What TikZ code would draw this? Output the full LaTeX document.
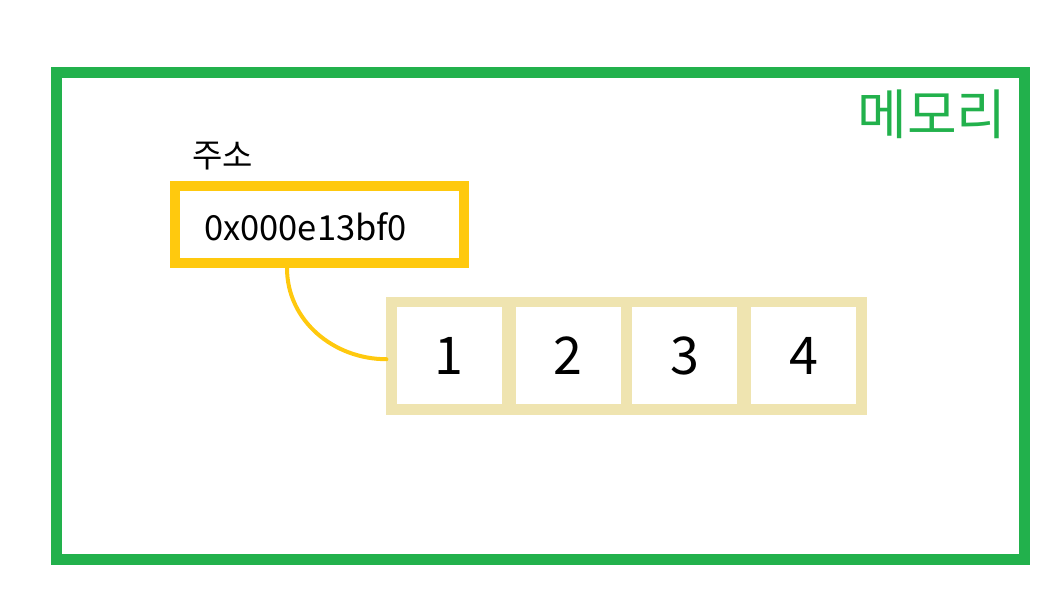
\documentclass[tikz,border=0pt]{standalone}
\usepackage{fontspec}
\setmainfont{Noto Sans CJK KR}
\usetikzlibrary{positioning}
\definecolor{memgreen}{RGB}{34,177,76}
\definecolor{addryellow}{RGB}{255,201,14}
\definecolor{celltan}{RGB}{239,228,176}
\begin{document}
\begin{tikzpicture}[x=1pt,y=-1pt,line join=miter,inner sep=0pt,
	membox/.style={draw=memgreen,line width=11pt},
	addrbox/.style={draw=addryellow,line width=10pt,minimum width=289pt,minimum height=77pt},
	cellbox/.style={draw=celltan,line width=10.5pt,minimum width=115.5pt,minimum height=107.2pt,font=\fontsize{52}{52}\selectfont},
	ptr/.style={draw=addryellow,line width=4pt,line cap=round}]
	\useasboundingbox (0,0) rectangle (1049,595);
	% memory frame
	\path (56.5,72.5) coordinate (M1)
	(1024.5,559.5) coordinate (M2);
	\draw[membox] (M1) rectangle (M2);
	\node[text=memgreen,font=\fontsize{54}{54}\selectfont] (memlbl) at (932,114) {메모리};
	% address box
	\node[addrbox] (addr) at (319.5,224.5) {};
	\node[anchor=west,font=\fontsize{34.5}{34.5}\selectfont] (addrtxt) at (204,227) {0x000e13bf0};
	\node[font=\fontsize{33}{33}\selectfont] (addrlbl) at (222.5,156) {주소};
	% array cells
	\foreach \i/\x in {1/449.4,2/568,3/684.9,4/803.9}
	\node[cellbox] (c\i) at (\x,355.7) {\i};
	\draw[ptr] ([xshift=-32.5pt]addr.south) to[out=-90,in=180] ([yshift=-3.5pt]c1.west);
\end{tikzpicture}
\end{document}
